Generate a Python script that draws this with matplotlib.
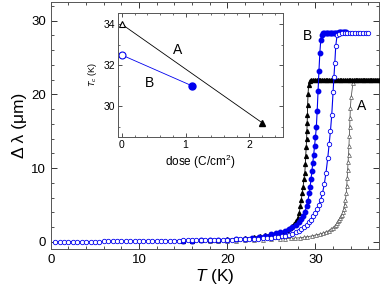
import matplotlib
matplotlib.use('Agg')
import matplotlib.pyplot as plt
from matplotlib.ticker import MultipleLocator

plt.rcParams['font.family'] = ['Liberation Sans', 'DejaVu Sans']
plt.rcParams['mathtext.fontset'] = 'custom'
plt.rcParams['mathtext.it'] = 'Liberation Sans:italic'
plt.rcParams['mathtext.rm'] = 'Liberation Sans'

# B pristine (open blue circles)
b_open_T = [0.5, 1.0, 1.5, 2.0, 2.5, 3.0, 3.5, 4.0, 4.5, 5.0, 5.5, 6.0, 6.5, 7.0, 7.5, 8.0,
            8.5, 9.0, 9.5, 10.0, 10.5, 11.0, 11.5, 12.0, 12.5, 13.0, 13.5, 14.0, 14.5, 15.0,
            15.5, 16.0, 16.5, 17.0, 17.5, 18.0, 18.5, 19.0, 19.5, 20.0, 20.5, 21.0, 21.5,
            22.0, 22.5, 23.0, 23.5, 24.0, 24.5, 25.0, 25.4, 25.8, 26.2, 26.6, 27.0, 27.4,
            27.8, 28.1, 28.4, 28.7, 29.0, 29.25, 29.5, 29.75, 30.0, 30.2, 30.4, 30.6, 30.8,
            31.0, 31.2, 31.4, 31.55, 31.7, 31.85, 32.0, 32.1, 32.2, 32.3, 32.45, 32.7, 33.0,
            33.3, 33.6, 33.9, 34.2, 34.5, 34.8, 35.1, 35.4, 35.7, 36.0]
b_open_dl = [0.0, 0.0, 0.0, 0.0, 0.0, 0.0, 0.0, 0.0, 0.02, 0.03, 0.04, 0.05, 0.05, 0.06, 0.07,
             0.08, 0.08, 0.09, 0.1, 0.1, 0.11, 0.12, 0.12, 0.13, 0.14, 0.15, 0.16, 0.17, 0.18,
             0.19, 0.2, 0.21, 0.22, 0.23, 0.24, 0.25, 0.26, 0.27, 0.28, 0.3, 0.31, 0.32, 0.34,
             0.36, 0.38, 0.4, 0.43, 0.46, 0.5, 0.55, 0.6, 0.66, 0.73, 0.82, 0.95, 1.1, 1.3,
             1.5, 1.75, 2.0, 2.3, 2.65, 3.0, 3.45, 3.9, 4.4, 5.0, 5.7, 6.6, 7.8, 9.4, 11.4,
             13.2, 15.0, 17.2, 20.3, 22.4, 24.3, 26.5, 28.0, 28.2, 28.25, 28.3, 28.3, 28.3,
             28.3, 28.32, 28.33, 28.34, 28.35, 28.35, 28.36]

# B irradiated (filled blue circles)
b_fill_T = [15.0, 16.0, 17.0, 18.0, 19.0, 20.0, 21.0, 22.0, 22.8, 23.6, 24.3, 25.0, 25.5,
            26.0, 26.5, 27.0, 27.4, 27.8, 28.1, 28.4, 28.6, 28.8, 29.0, 29.15, 29.3, 29.4,
            29.5, 29.6, 29.7, 29.8, 29.9, 30.0, 30.1, 30.2, 30.3, 30.4, 30.5, 30.6, 30.7,
            30.85, 31.0, 31.15, 31.3, 31.45, 31.6, 31.75, 31.9, 32.05, 32.2, 32.35, 32.5,
            32.65, 32.8, 32.95, 33.1, 33.25, 33.4, 33.5]
b_fill_dl = [0.15, 0.18, 0.2, 0.23, 0.26, 0.3, 0.36, 0.44, 0.55, 0.7, 0.85, 1.0, 1.15, 1.3,
             1.5, 1.75, 2.0, 2.35, 2.7, 3.1, 3.5, 4.1, 4.8, 5.6, 6.6, 7.5, 8.5, 9.6, 10.7,
             11.8, 13.0, 14.2, 15.5, 17.8, 20.5, 23.2, 25.6, 27.3, 28.1, 28.3, 28.32, 28.33,
             28.33, 28.34, 28.34, 28.35, 28.35, 28.36, 28.36, 28.37, 28.37, 28.38, 28.38,
             28.38, 28.39, 28.39, 28.4, 28.4]

# A irradiated (filled black triangles)
a_fill_T = [15.0, 16.0, 17.0, 18.0, 19.0, 20.0, 21.0, 22.0, 23.0, 23.7, 24.3, 24.8, 25.3,
            25.8, 26.3, 26.8, 27.1, 27.4, 27.6, 27.8, 28.0, 28.15, 28.3, 28.4, 28.5, 28.6,
            28.7, 28.8, 28.85, 28.9, 28.95, 29.0, 29.03, 29.06, 29.09, 29.12, 29.16, 29.22,
            29.35, 29.55, 29.75, 29.95, 30.15, 30.35, 30.55, 30.75, 30.95, 31.15, 31.35,
            31.55, 31.75, 31.95, 32.15, 32.35, 32.55, 32.75, 32.95, 33.15, 33.35, 33.55,
            33.75, 33.95, 34.15, 34.35, 34.55, 34.75, 34.95, 35.15, 35.35, 35.55, 35.75,
            35.95, 36.15, 36.35, 36.55, 36.75, 36.95, 37.15, 37.35]
a_fill_dl = [0.15, 0.18, 0.22, 0.26, 0.3, 0.35, 0.42, 0.5, 0.62, 0.75, 0.88, 1.0, 1.1, 1.2,
             1.4, 1.65, 1.85, 2.1, 2.4, 2.8, 3.3, 3.9, 4.8, 5.7, 6.6, 7.5, 8.5, 9.4, 10.5,
             11.6, 12.8, 13.9, 15.0, 16.1, 17.2, 18.6, 20.0, 21.2, 21.8, 21.9, 21.95, 21.96,
             21.97, 21.98, 21.98, 21.99, 21.99, 22.0, 22.0, 22.0, 22.0, 22.0, 22.0, 22.0,
             22.0, 22.0, 22.0, 22.0, 22.0, 22.0, 22.0, 22.0, 22.0, 22.0, 22.0, 22.0, 22.0,
             22.0, 22.0, 22.0, 22.0, 22.0, 22.0, 22.0, 22.0, 22.0, 22.0, 22.0, 22.0]

# A pristine (open black triangles)
a_open_T = [18.0, 19.0, 20.0, 21.0, 22.0, 23.0, 24.0, 25.0, 26.0, 26.6, 27.2, 27.7, 28.2,
            28.7, 29.1, 29.6, 30.1, 30.5, 30.9, 31.2, 31.5, 31.8, 32.0, 32.2, 32.35, 32.5,
            32.6, 32.7, 32.8, 32.9, 33.0, 33.1, 33.2, 33.3, 33.4, 33.5, 33.55, 33.6, 33.65,
            33.7, 33.75, 33.8, 33.84, 33.88, 33.92, 33.96, 34.05, 34.25, 34.45, 34.65,
            34.85, 35.05, 35.25, 35.45, 35.65, 35.85, 36.05, 36.25, 36.45, 36.65, 36.85,
            37.05, 37.25]
a_open_dl = [0.1, 0.12, 0.15, 0.18, 0.22, 0.26, 0.3, 0.35, 0.4, 0.43, 0.46, 0.5, 0.55,
             0.62, 0.7, 0.8, 0.95, 1.05, 1.2, 1.35, 1.5, 1.7, 1.9, 2.1, 2.35, 2.6, 2.8,
             3.0, 3.25, 3.5, 3.7, 4.0, 4.4, 5.0, 5.7, 6.6, 7.6, 8.6, 9.8, 10.8, 11.8, 13.0,
             14.3, 15.5, 16.8, 18.2, 19.6, 21.5, 21.9, 21.95, 21.97, 21.98, 22.0, 22.0,
             22.0, 22.0, 22.0, 22.0, 22.0, 22.0, 22.0, 22.0, 22.0]

# inset: Tc vs dose
dose_A = [0.0, 2.2]
tc_A = [34.0, 29.2]
dose_B = [0.0, 1.1]
tc_B = [32.5, 31.0]

blue = '#0000ee'
grey = '#555555'

fig = plt.figure(figsize=(3.82, 2.96), dpi=100)
ax = fig.add_axes([0.133, 0.158, 0.859, 0.835])

ax.plot(a_open_T, a_open_dl, '-^', color=grey, lw=0.6, ms=2.8, mfc='white', mec=grey,
        mew=0.5, zorder=2)
ax.plot(a_fill_T, a_fill_dl, '-^', color='black', lw=0.6, ms=2.8, zorder=3)
ax.plot(b_fill_T, b_fill_dl, '-o', color=blue, lw=0.8, ms=3.2, zorder=4)
ax.plot(b_open_T, b_open_dl, '-o', color=blue, lw=0.8, ms=3.2, mfc='white', mec=blue,
        mew=0.6, zorder=5)

ax.set_xlim(0, 37.2)
ax.set_ylim(-1, 32.5)
ax.xaxis.set_major_locator(MultipleLocator(10))
ax.xaxis.set_minor_locator(MultipleLocator(2))
ax.yaxis.set_major_locator(MultipleLocator(10))
ax.yaxis.set_minor_locator(MultipleLocator(2))
ax.tick_params(which='both', direction='in', top=True, right=True, labelsize=9.5,
               color='#333333')
ax.tick_params(which='major', length=4, width=0.7)
ax.tick_params(which='minor', length=2, width=0.6)
for s in ax.spines.values():
    s.set_linewidth(0.7)
    s.set_color('#555555')

ax.set_xlabel(r'$T$ (K)', fontsize=12.5, labelpad=1)
ax.set_ylabel('\u0394 \u03bb (\u03bcm)', fontsize=12.5, labelpad=3)

ax.text(29.1, 27.9, 'B', fontsize=10, ha='center', va='center')
ax.text(35.2, 18.4, 'A', fontsize=10, ha='center', va='center')

# inset
ins = fig.add_axes([0.309, 0.537, 0.432, 0.419])
ins.plot(dose_A, tc_A, '-', color='black', lw=0.6)
ins.plot(dose_A[0], tc_A[0], '^', ms=5, mfc='white', mec='black', mew=0.8)
ins.plot(dose_A[1], tc_A[1], '^', ms=5, color='black')
ins.plot(dose_B, tc_B, '-', color=blue, lw=0.6)
ins.plot(dose_B[0], tc_B[0], 'o', ms=5, mfc='white', mec=blue, mew=0.8)
ins.plot(dose_B[1], tc_B[1], 'o', ms=5, color=blue)
ins.set_xlim(-0.06, 2.53)
ins.set_ylim(28.5, 34.55)
ins.xaxis.set_major_locator(MultipleLocator(1))
ins.xaxis.set_minor_locator(MultipleLocator(0.2))
ins.yaxis.set_major_locator(MultipleLocator(2))
ins.yaxis.set_minor_locator(MultipleLocator(1))
ins.tick_params(which='both', direction='in', top=True, right=True, labelsize=7.5,
                color='#333333', pad=2)
ins.tick_params(which='major', length=3, width=0.6)
ins.tick_params(which='minor', length=1.5, width=0.5)
for s in ins.spines.values():
    s.set_linewidth(0.7)
    s.set_color('#555555')
ins.set_xlabel('dose (C/cm$^2$)', fontsize=8.5, labelpad=2)
ins.set_ylabel(r'$T_c$ (K)', fontsize=6.5, labelpad=3)
ins.text(0.88, 32.74, 'A', fontsize=10, ha='center', va='center')
ins.text(0.43, 31.12, 'B', fontsize=10, ha='center', va='center')

fig.savefig('out.png', dpi=100)
